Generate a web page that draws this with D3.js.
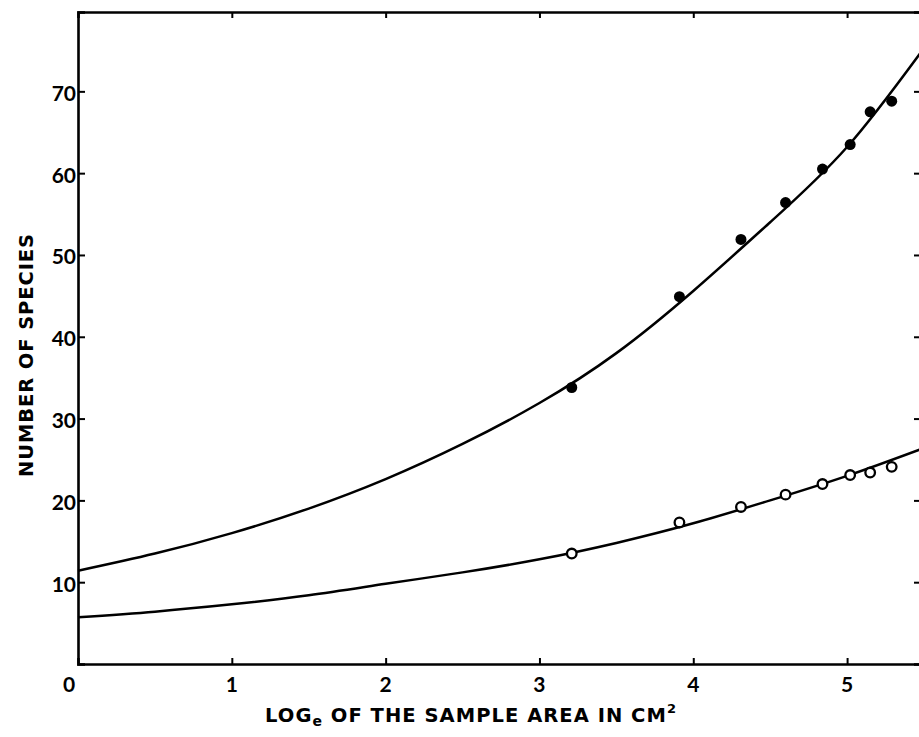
<!DOCTYPE html>
<html>
<head>
<meta charset="utf-8">
<script src="https://cdn.jsdelivr.net/npm/d3@7/dist/d3.min.js"></script>
<style>
  html, body { margin: 0; padding: 0; background: #fff; }
  svg { display: block; }
  text { font-family: "Lato", "DejaVu Sans", sans-serif; font-weight: bold; fill: #000; }
  text.title { font-family: "DejaVu Sans", sans-serif; }
</style>
</head>
<body>
<svg id="chart" width="919" height="737"></svg>
<script>
// ---- data ----
const xTickValues = [1, 2, 3, 4, 5];
const yTickValues = [10, 20, 30, 40, 50, 60, 70];
const logArea = [3.21, 3.91, 4.31, 4.60, 4.84, 5.02, 5.15, 5.29];
const speciesFilled = [33.8, 44.9, 51.9, 56.4, 60.5, 63.5, 67.5, 68.8];
const speciesOpen = [13.5, 17.3, 19.2, 20.7, 22.0, 23.1, 23.4, 24.1];
const curveX = [0, 0.5, 1, 1.5, 2, 2.5, 3, 3.5, 4, 4.5, 5, 5.5];
const upperCurve = [11.4, 13.5, 16.0, 19.0, 22.6, 26.9, 31.9, 38.0, 45.6, 54.0, 63.2, 75.3];
const lowerCurve = [5.7, 6.4, 7.3, 8.4, 9.8, 11.2, 12.8, 14.8, 17.2, 20.0, 23.0, 26.4];
const xTitle = ["LOG", "e", " OF THE SAMPLE AREA IN CM", "2"];
const yTitle = "NUMBER OF SPECIES";

// ---- layout ----
(function () {
const svg = d3.select("#chart");
const mLeft = 78, mRight = 924, mTop = 12, mBottom = 664;
const x = d3.scaleLinear().domain([0, 5.5]).range([mLeft, mRight]);
const y = d3.scaleLinear().domain([0, 79.7]).range([mBottom, mTop]);

const frame = svg.append("g");
// axes (ticks inward)
const axB = frame.append("g").attr("transform", `translate(0,${mBottom})`)
  .call(d3.axisTop(x).tickValues(xTickValues).tickSize(6).tickFormat(""));
const axT = frame.append("g").attr("transform", `translate(0,${mTop})`)
  .call(d3.axisBottom(x).tickValues(xTickValues).tickSize(6).tickFormat(""));
const axL = frame.append("g").attr("transform", `translate(${mLeft},0)`)
  .call(d3.axisRight(y).tickValues(yTickValues).tickSize(7).tickFormat(""));
const axR = frame.append("g").attr("transform", `translate(${mRight - 2},0)`)
  .call(d3.axisLeft(y).tickValues(yTickValues).tickSize(8).tickFormat(""));
[axB, axT, axL, axR].forEach(a => {
  a.select(".domain").attr("stroke", "#000").attr("stroke-width", 2.6);
  a.selectAll(".tick line").attr("stroke", "#000").attr("stroke-width", 2);
});

// tick labels
svg.append("g").selectAll("text").data(xTickValues).join("text")
  .attr("x", d => x(d)).attr("y", 692)
  .attr("text-anchor", "middle").attr("font-size", 21)
  .text(d => d);
svg.append("text").attr("x", 69).attr("y", 692)
  .attr("text-anchor", "middle").attr("font-size", 21).text("0");
svg.append("g").selectAll("text").data(yTickValues).join("text")
  .attr("x", 76).attr("y", d => y(d) + 9.5)
  .attr("text-anchor", "end").attr("font-size", 21)
  .text(d => d);

// axis titles
function fitSpacing(sel, target) {
  const n = sel.text().length;
  const w = sel.node().getComputedTextLength();
  sel.attr("letter-spacing", (target - w) / n);
}
const xt = svg.append("text").attr("class", "title").attr("x", 265).attr("y", 722).attr("font-size", 19.5);
xt.append("tspan").text(xTitle[0]);
xt.append("tspan").attr("font-size", 14).attr("dy", 4).text(xTitle[1]);
xt.append("tspan").attr("dy", -4).text(xTitle[2]);
xt.append("tspan").attr("font-size", 13).attr("dy", -9).text(xTitle[3]);
fitSpacing(xt, 412);

const yt = svg.append("text").attr("class", "title")
  .attr("transform", "translate(33,355) rotate(-90)")
  .attr("text-anchor", "middle").attr("font-size", 19.5)
  .text(yTitle);
fitSpacing(yt, 244);

// curves
const line = d3.line().x(d => x(d[0])).y(d => y(d[1])).curve(d3.curveNatural);
[upperCurve, lowerCurve].forEach(c => {
  svg.append("path")
    .datum(curveX.map((v, i) => [v, c[i]]))
    .attr("d", line)
    .attr("fill", "none").attr("stroke", "#000").attr("stroke-width", 2.5);
});

// points
svg.append("g").selectAll("circle").data(logArea).join("circle")
  .attr("cx", d => x(d)).attr("cy", (d, i) => y(speciesFilled[i]))
  .attr("r", 5.5).attr("fill", "#000");
svg.append("g").selectAll("circle").data(logArea).join("circle")
  .attr("cx", d => x(d)).attr("cy", (d, i) => y(speciesOpen[i]))
  .attr("r", 4.8).attr("fill", "#fff").attr("stroke", "#000").attr("stroke-width", 2.3);
})();
</script>
</body>
</html>
